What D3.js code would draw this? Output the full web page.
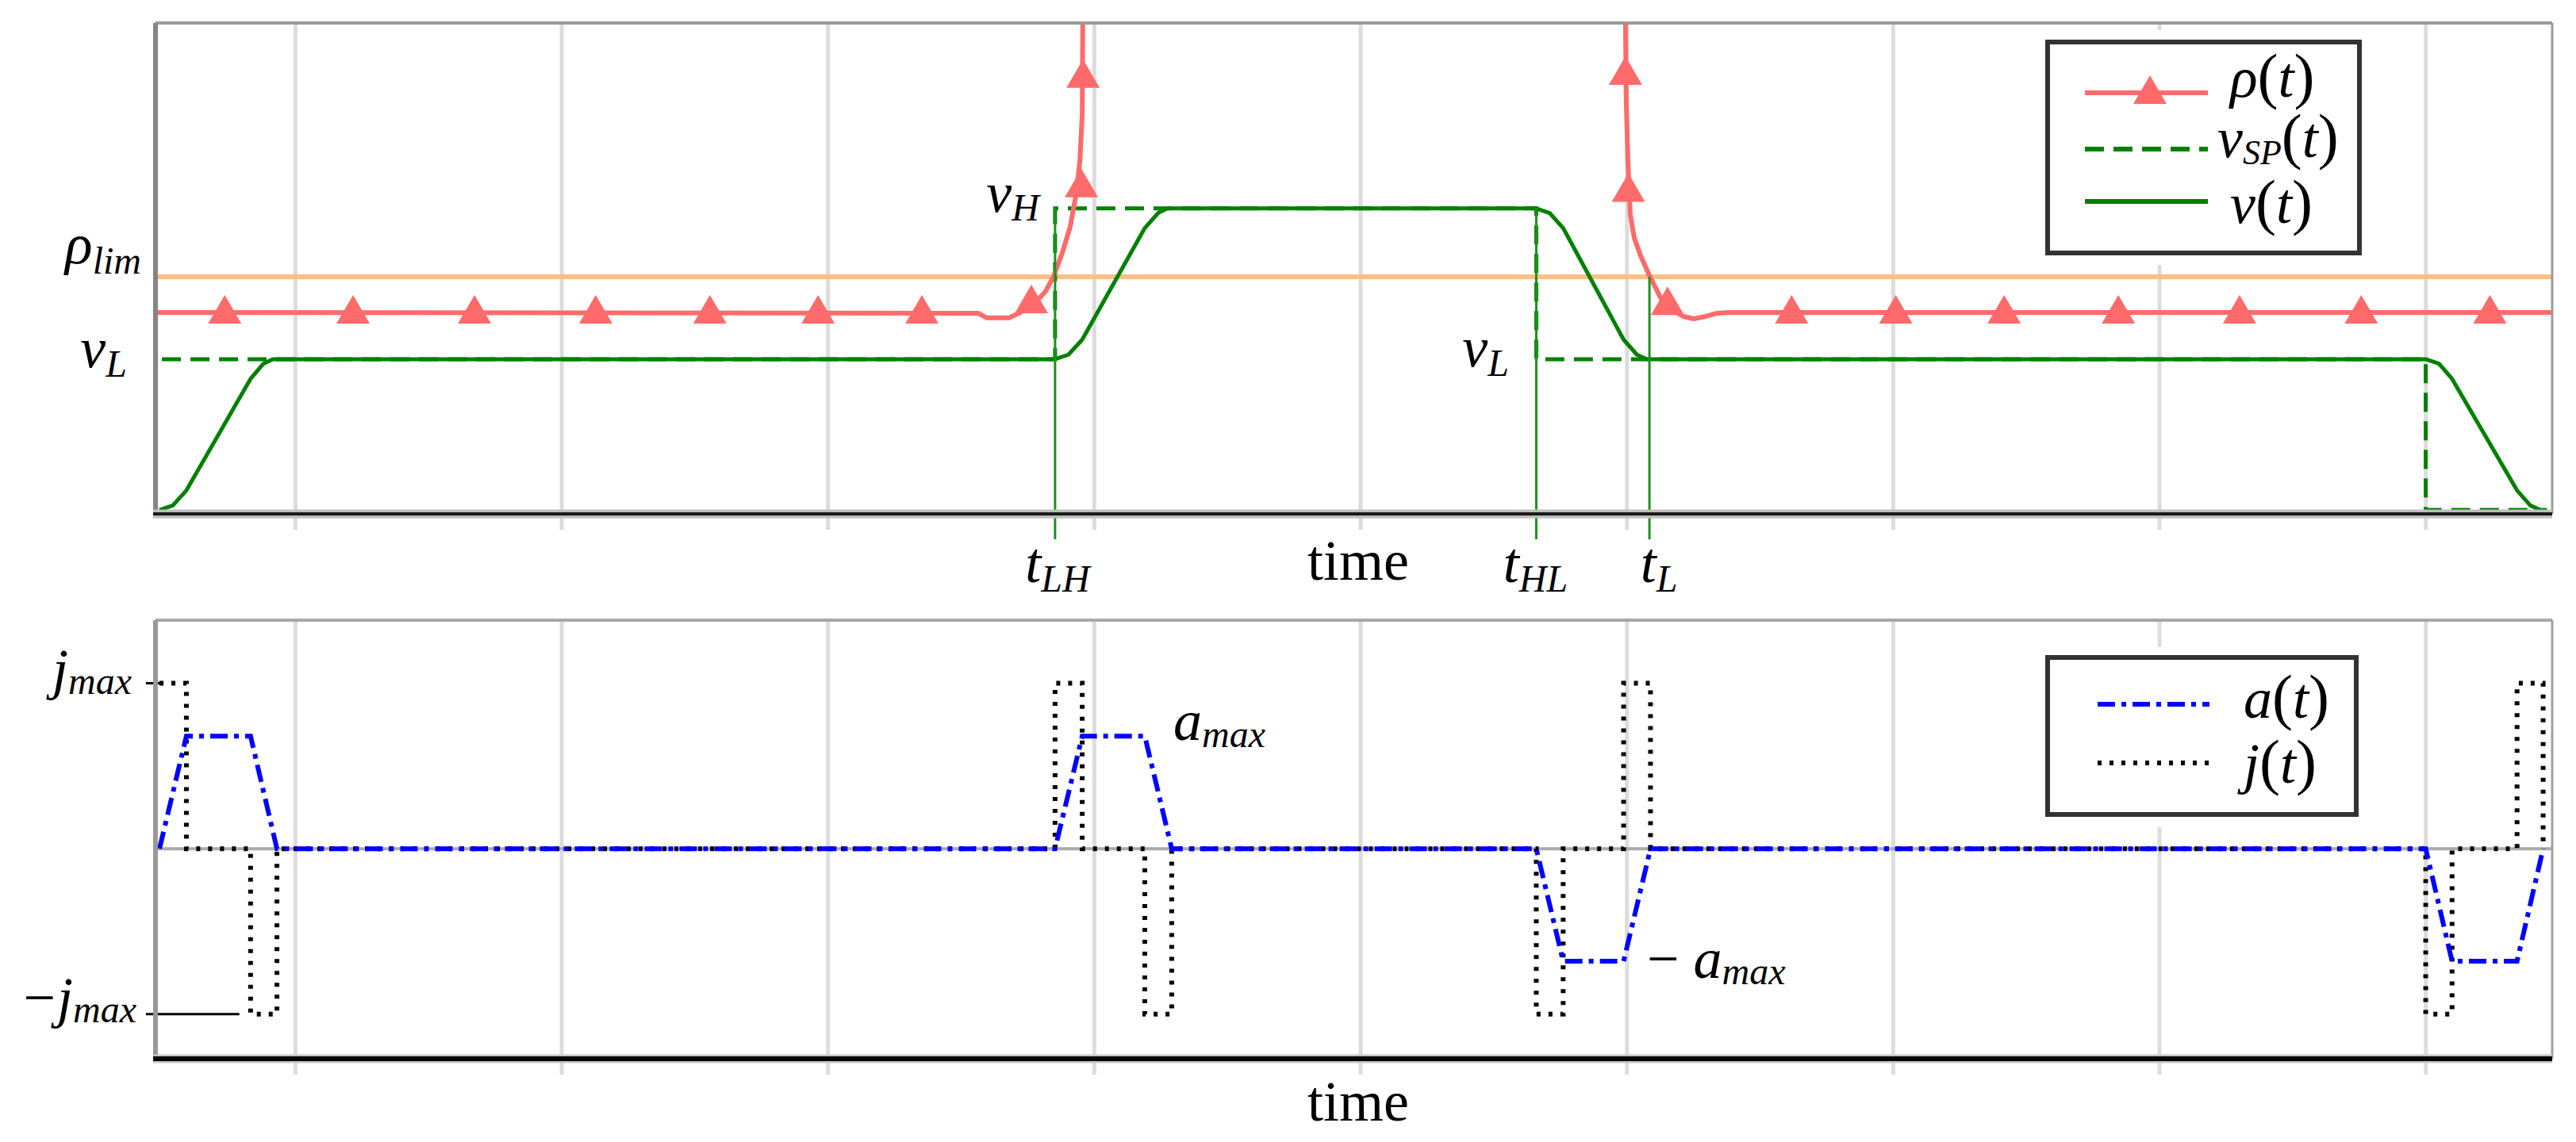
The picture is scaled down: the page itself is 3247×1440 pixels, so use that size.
<!DOCTYPE html>
<html><head><meta charset="utf-8">
<script src="https://cdn.jsdelivr.net/npm/d3@7"></script>
<style>
html,body{margin:0;padding:0;background:#fff;}
svg{display:block;}
</style></head><body>
<svg id="chart" width="3247" height="1440" font-family="'Liberation Serif', 'DejaVu Serif', 'Times New Roman', serif"></svg>
<script>
// ---------------- DATA ----------------
const timeDomain = [0, 90];
const gridTimes = [5.24, 15.24, 25.24, 35.24, 45.24, 55.24, 65.24, 75.24, 85.24];

const vL = 1.0, vH = 2.0, rhoLim = 1.547;
const aMax = 1.0, jMax = 1.47;
const tLH = 33.78, tHL = 51.85, tL = 56.10;

// rho(t): two branches (left approach to the asymptote, right recovery)
const rhoLeft = [[0,1.31],[30.89,1.305],[31.22,1.274],[32.05,1.274],[32.47,1.31],[32.99,1.368],[33.41,1.447],[33.72,1.547],[34.04,1.70],[34.35,1.879],[34.56,2.084],[34.71,2.31],[34.80,2.62],[34.82,3.23],[34.83,3.5]];
const rhoRight = [[55.19,3.5],[55.20,3.23],[55.23,2.70],[55.29,2.33],[55.38,1.96],[55.53,1.805],[55.76,1.69],[56.12,1.547],[56.57,1.39],[57.02,1.32],[57.37,1.284],[57.76,1.268],[58.21,1.284],[58.65,1.305],[59.1,1.31],[90,1.31]];
const rhoMarkers = [[2.6,1.31],[7.42,1.31],[11.98,1.31],[16.53,1.31],[20.82,1.31],[24.88,1.31],[28.78,1.31],[32.89,1.379],[34.77,2.148],[34.83,2.874],
                    [55.20,2.893],[55.31,2.117],[56.78,1.366],[61.44,1.31],[65.35,1.31],[69.42,1.31],[73.71,1.31],[78.26,1.31],[82.83,1.31],[87.66,1.31]];

// set-point velocity (step after)
const vSP = [[0.24,1],[tLH,2],[tHL,1],[85.25,0],[89.8,0]];
// velocity (read along the ramps: start, rounded knee, linear part, rounded knee, end)
const vSeries = [[0.15,0],[0.65,0.03],[1.16,0.13],[3.57,0.87],[4.05,0.97],[4.40,1],
                 [33.78,1],[34.28,1.03],[34.80,1.13],[37.15,1.87],[37.65,1.97],[38.0,2],
                 [51.85,2],[52.35,1.97],[52.86,1.87],[55.13,1.13],[55.63,1.03],[56.0,1],
                 [85.25,1],[85.75,0.97],[86.24,0.87],[88.68,0.13],[89.18,0.03],[89.55,0]];
// acceleration
const aSeries = [[0.15,0],[1.16,1],[3.57,1],[4.56,0],[33.78,0],[34.80,1],[37.15,1],[38.16,0],[51.85,0],[52.86,-1],[55.13,-1],[56.14,0],[85.25,0],[86.24,-1],[88.68,-1],[89.66,0]];
// jerk (step after)
const jSeries = [[0.15,1.47],[1.16,0],[3.57,-1.47],[4.56,0],[33.78,1.47],[34.80,0],[37.15,-1.47],[38.16,0],[51.85,-1.47],[52.86,0],[55.13,1.47],[56.14,0],[85.25,-1.47],[86.24,0],[88.68,1.47],[89.66,0]];

// ---------------- LAYOUT ----------------
const svg = d3.select('#chart');
const FAMILY = "'Liberation Serif', 'DejaVu Serif', 'Times New Roman', serif";
const L = 196, R = 3217;
const topP = {t: 29, b: 648};
const botP = {t: 782, b: 1335};

const x = d3.scaleLinear().domain(timeDomain).range([L, R]);
const yTop = d3.scaleLinear().domain([-0.026, 3.23]).range([topP.b, topP.t]);
const yBot = d3.scaleLinear().domain([-1.866, 2.03]).range([botP.b, botP.t]);

const C = {rho:'#ff6b6b', lim:'#ffbf82', green:'#008000', blue:'#0000ff', grid:'#dcdcdc'};
const FONT = 72, SUB = 48;

const defs = svg.append('defs');
defs.append('clipPath').attr('id','clipTop').append('rect').attr('x',L).attr('y',topP.t).attr('width',R-L).attr('height',topP.b-topP.t);
defs.append('clipPath').attr('id','clipBot').append('rect').attr('x',L).attr('y',botP.t).attr('width',R-L).attr('height',botP.b-botP.t);

function mathText(g, px, py, parts, anchor, size) {
  const t = g.append('text').attr('x', px).attr('y', py).attr('text-anchor', anchor || 'start')
    .attr('font-family', FAMILY).attr('fill', '#000');
  let cur = 0;
  parts.forEach(p => {
    const ts = t.append('tspan').text(p.s)
      .attr('font-size', p.size || size || FONT)
      .attr('font-style', p.up ? 'normal' : 'italic');
    const sh = p.shift || 0;
    if (sh !== cur) ts.attr('dy', sh - cur);
    if (p.dx) ts.attr('dx', p.dx);
    cur = sh;
  });
  return t;
}

function gridAxis(yPos, height) {
  const ax = d3.axisBottom(x).tickValues(gridTimes).tickSize(-height).tickFormat('');
  const g = svg.append('g').attr('transform', `translate(0,${yPos})`).call(ax);
  g.select('.domain').remove();
  g.selectAll('.tick line').attr('stroke', C.grid).attr('stroke-width', 5);
}

// ---------------- TOP PANEL ----------------
gridAxis(topP.b + 20, topP.b + 20 - topP.t);

const gT = svg.append('g').attr('clip-path', 'url(#clipTop)');
svg.append('rect').attr('x', 2566).attr('y', 38).attr('width', 424).attr('height', 296).attr('fill', '#fff');

gT.append('line').attr('x1', L).attr('x2', R).attr('y1', yTop(rhoLim)).attr('y2', yTop(rhoLim))
  .attr('stroke', C.lim).attr('stroke-width', 6);

gT.append('path').datum(vSP).attr('d', d3.line().x(d => x(d[0])).y(d => yTop(d[1])).curve(d3.curveStepAfter)).attr('fill','none')
  .attr('stroke', C.green).attr('stroke-width', 5).attr('stroke-dasharray', '24,12');
gT.append('path').datum(vSeries).attr('d', d3.line().x(d => x(d[0])).y(d => yTop(d[1])))
  .attr('fill','none').attr('stroke', C.green).attr('stroke-width', 5).attr('stroke-linejoin','round');

// thin event lines
const evLines = [{t: tLH, from: vH}, {t: tHL, from: vH}, {t: tL, from: rhoLim}];
svg.append('g').selectAll('line').data(evLines).join('line')
  .attr('x1', d => x(d.t)).attr('x2', d => x(d.t))
  .attr('y1', d => yTop(d.from)).attr('y2', topP.b + 32)
  .attr('stroke', '#1f8f1f').attr('stroke-width', 3);

const lineR = d3.line().x(d => x(d[0])).y(d => yTop(d[1]));
[rhoLeft, rhoRight].forEach(s => {
  gT.append('path').datum(s).attr('d', lineR).attr('fill','none')
    .attr('stroke', C.rho).attr('stroke-width', 6).attr('stroke-linejoin','round');
});
const tri = 'M0,-22L21,14L-21,14Z';
gT.append('g').selectAll('path').data(rhoMarkers).join('path')
  .attr('d', tri).attr('transform', d => `translate(${x(d[0])},${yTop(d[1])})`).attr('fill', C.rho);

// frame
svg.append('line').attr('x1', L).attr('x2', R).attr('y1', topP.t).attr('y2', topP.t).attr('stroke', '#9a9a9a').attr('stroke-width', 4);
svg.append('line').attr('x1', R).attr('x2', R).attr('y1', topP.t).attr('y2', topP.b).attr('stroke', '#9a9a9a').attr('stroke-width', 3);
svg.append('line').attr('x1', L).attr('x2', L).attr('y1', topP.t).attr('y2', topP.b).attr('stroke', '#858585').attr('stroke-width', 6);
svg.append('line').attr('x1', L-3).attr('x2', R).attr('y1', topP.b).attr('y2', topP.b).attr('stroke', '#bdbdbd').attr('stroke-width', 11);
svg.append('line').attr('x1', L-3).attr('x2', R).attr('y1', topP.b).attr('y2', topP.b).attr('stroke', '#1a1a1a').attr('stroke-width', 4);

// labels top
const gl = svg.append('g');
mathText(gl, 178, yTop(rhoLim) - 17, [{s:'ρ'},{s:'lim', size: SUB, shift: 13}], 'end');
mathText(gl, 160, yTop(vL) + 10, [{s:'v'},{s:'L', size: SUB, shift: 12}], 'end');
mathText(gl, 1310, yTop(vH) + 4, [{s:'v'},{s:'H', size: SUB, shift: 11}], 'end');
mathText(gl, 1902, yTop(vL) + 9, [{s:'v'},{s:'L', size: SUB, shift: 12}], 'end');
mathText(gl, x(tLH) + 3, 734, [{s:'t'},{s:'LH', size: SUB, shift: 12}], 'middle');
mathText(gl, x(tHL) - 1, 734, [{s:'t'},{s:'HL', size: SUB, shift: 12}], 'middle');
mathText(gl, x(tL) + 12, 734, [{s:'t'},{s:'L', size: SUB, shift: 12}], 'middle');
mathText(gl, 1712, 731, [{s:'time', up:true}], 'middle');

// legend top
const lg1 = svg.append('g');
lg1.append('rect').attr('x', 2581).attr('y', 53).attr('width', 393).attr('height', 266)
  .attr('fill', '#fff').attr('stroke', '#333').attr('stroke-width', 6);
const legTop = [
  {y: 117, color: C.rho, dash: null, marker: true, parts: [{s:'ρ'},{s:'(',up:true,size:78},{s:'t'},{s:')',up:true,size:78}], tx: 2811, ty: 122},
  {y: 188, color: C.green, dash: '24,12', parts: [{s:'v'},{s:'SP',size:44,shift:9},{s:'(',up:true,size:78},{s:'t'},{s:')',up:true,size:78}], tx: 2795, ty: 198},
  {y: 254, color: C.green, dash: null, parts: [{s:'v'},{s:'(',up:true,size:78},{s:'t'},{s:')',up:true,size:78}], tx: 2811, ty: 281}
];
legTop.forEach(d => {
  const ln = lg1.append('line').attr('x1', 2628).attr('x2', 2783).attr('y1', d.y).attr('y2', d.y)
    .attr('stroke', d.color).attr('stroke-width', 6);
  if (d.dash) ln.attr('stroke-dasharray', d.dash);
  if (d.marker) lg1.append('path').attr('d', tri).attr('transform', `translate(2710,${d.y})`).attr('fill', C.rho);
  mathText(lg1, d.tx, d.ty, d.parts, 'start', 72);
});

// ---------------- BOTTOM PANEL ----------------
gridAxis(botP.b + 20, botP.b + 20 - botP.t);
svg.append('rect').attr('x', 2566).attr('y', 816).attr('width', 419).attr('height', 227).attr('fill', '#fff');

svg.append('line').attr('x1', L).attr('x2', R).attr('y1', yBot(0)).attr('y2', yBot(0)).attr('stroke', '#aaaaaa').attr('stroke-width', 4);

const gB = svg.append('g').attr('clip-path', 'url(#clipBot)');
gB.append('path').datum(jSeries).attr('d', d3.line().x(d => x(d[0])).y(d => yBot(d[1])).curve(d3.curveStepAfter))
  .attr('fill','none').attr('stroke', '#000').attr('stroke-width', 6).attr('stroke-dasharray', '5,10');
gB.append('path').datum(aSeries).attr('d', d3.line().x(d => x(d[0])).y(d => yBot(d[1])))
  .attr('fill','none').attr('stroke', C.blue).attr('stroke-width', 6).attr('stroke-dasharray', '22,8,6,8');

// jerk level markers
const jMarks = [{v: jMax, t0: -0.36, t1: 0.3}, {v: -jMax, t0: -0.36, t1: 3.15}];
svg.append('g').selectAll('line').data(jMarks).join('line')
  .attr('x1', d => x(d.t0)).attr('x2', d => x(d.t1)).attr('y1', d => yBot(d.v)).attr('y2', d => yBot(d.v))
  .attr('stroke', '#000').attr('stroke-width', 3);

// frame
svg.append('line').attr('x1', L).attr('x2', R).attr('y1', botP.t).attr('y2', botP.t).attr('stroke', '#a8a8a8').attr('stroke-width', 4);
svg.append('line').attr('x1', R).attr('x2', R).attr('y1', botP.t).attr('y2', botP.b).attr('stroke', '#a0a0a0').attr('stroke-width', 3);
svg.append('line').attr('x1', L).attr('x2', L).attr('y1', botP.t).attr('y2', botP.b).attr('stroke', '#999').attr('stroke-width', 6);
svg.append('line').attr('x1', L-3).attr('x2', R).attr('y1', botP.b).attr('y2', botP.b).attr('stroke', '#c4c4c4').attr('stroke-width', 11);
svg.append('line').attr('x1', L-3).attr('x2', R).attr('y1', botP.b).attr('y2', botP.b).attr('stroke', '#000').attr('stroke-width', 6);

// labels bottom
const gb = svg.append('g');
mathText(gb, 166, yBot(jMax) + 7, [{s:'j'},{s:'max', size: SUB, shift: 7}], 'end');
mathText(gb, 172, yBot(-jMax) + 3, [{s:'−', up:true},{s:'j', dx: 2},{s:'max', size: SUB, shift: 7}], 'end');
mathText(gb, 1479, yBot(aMax) + 5, [{s:'a'},{s:'max', size: SUB, shift: 9}], 'start');
mathText(gb, 2076, yBot(-aMax) + 21, [{s:'−', up:true},{s:'a', dx: 18},{s:'max', size: SUB, shift: 8}], 'start');
mathText(gb, 1712, 1413, [{s:'time', up:true}], 'middle');

// legend bottom
const lg2 = svg.append('g');
lg2.append('rect').attr('x', 2581).attr('y', 829).attr('width', 389).attr('height', 198)
  .attr('fill', '#fff').attr('stroke', '#333').attr('stroke-width', 6);
const legBot = [
  {y: 888, color: C.blue, dash: '22,8,6,8', parts: [{s:'a'},{s:'(',up:true,size:78},{s:'t'},{s:')',up:true,size:78}], ty: 905},
  {y: 962, color: '#000', dash: '5,10', parts: [{s:'j'},{s:'(',up:true,size:78},{s:'t'},{s:')',up:true,size:78}], ty: 987}
];
legBot.forEach(d => {
  lg2.append('line').attr('x1', 2644).attr('x2', 2785).attr('y1', d.y).attr('y2', d.y)
    .attr('stroke', d.color).attr('stroke-width', 6).attr('stroke-dasharray', d.dash);
  mathText(lg2, 2828, d.ty, d.parts, 'start', 72);
});
</script>
</body></html>
